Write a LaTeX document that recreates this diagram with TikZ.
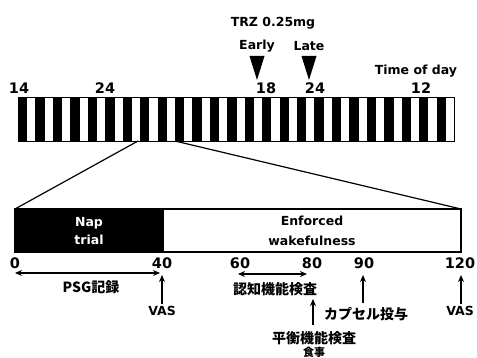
\documentclass[tikz,border=0pt]{standalone}
\usepackage{fontspec}
\setmainfont{DejaVu Sans}
\newfontfamily\jpfont{Noto Sans CJK JP}
\usetikzlibrary{arrows.meta}
\tikzset{
  lbl/.style={font=\bfseries\fontsize{12.5}{14}\selectfont, inner sep=0pt},
  num/.style={font=\bfseries\fontsize{14.5}{16}\selectfont, inner sep=0pt},
  jlbl/.style={font=\jpfont\bfseries\fontsize{14}{16}\selectfont, inner sep=0pt},
  arr/.style={-{Stealth[length=7pt,width=6pt]}, line width=1.4pt},
  darr/.style={{Stealth[length=7pt,width=6pt]}-{Stealth[length=7pt,width=6pt]}, line width=1.4pt},
  tri/.style={fill=black},
}
\begin{document}
\begin{tikzpicture}[x=1pt,y=-1pt]
\useasboundingbox (0,0) rectangle (477,358);
% top labels
\node[lbl] (trz) at (273,23) {TRZ 0.25mg};
\node[lbl] (early) at (257,46) {Early};
\node[lbl] (late) at (309,46) {Late};
\fill[tri] (249.5,56) -- (264.5,56) -- (257,80) -- cycle;
\fill[tri] (301.5,56) -- (316.5,56) -- (309,80) -- cycle;
\node[lbl] (tod) at (416,71) {Time of day};
\node[num] (h14) at (19,88) {14};
\node[num] (h24a) at (105,88) {24};
\node[num] (h18) at (266,88) {18};
\node[num] (h24b) at (315,88) {24};
\node[num] (h12) at (421,88) {12};
% striped bar
\foreach \i in {0,...,24} {
  \fill[black] ({18+2*\i*8.72},97) rectangle ({18+(2*\i+1)*8.72+0.6},141);
}
\draw[line width=0.8pt] (18,97) rectangle (454,141);
\coordinate (zl) at (138,141);
\coordinate (zr) at (175,141);
% lower box
\fill[black] (15,209) rectangle (164,252);
\draw[line width=1.2pt] (15,209) rectangle (461,252);
\coordinate (bl) at (15,209);
\coordinate (br) at (461,209);
\draw[line width=1.2pt] (zl) -- (bl);
\draw[line width=1.2pt] (zr) -- (br);
\node[lbl, text=white, align=center, font=\bfseries\fontsize{12.5}{18}\selectfont] (nap) at (89,231) {Nap\\trial};
\node[lbl, align=center, font=\bfseries\fontsize{12.5}{20}\selectfont] (enf) at (312,231) {Enforced\\wakefulness};
% axis labels
\node[num] (m0) at (15,263) {0};
\node[num] (m40) at (162,263) {40};
\node[num] (m60) at (240,263) {60};
\node[num] (m80) at (312,263) {80};
\node[num] (m90) at (364,263) {90};
\node[num] (m120) at (460,263) {120};
% PSG
\coordinate (p0) at (15,273);
\coordinate (p1) at (160,273);
\draw[darr] (p0) -- (p1);
\node[jlbl] (psg) at (91,287) {PSG記録};
% VAS at 40
\node[lbl] (vas1) at (162,311) {VAS};
\coordinate (v1e) at (162,275);
\draw[arr] (vas1.north) ++(0,-2) -- (v1e);
% cognitive
\coordinate (c0) at (238,274);
\coordinate (c1) at (307,274);
\draw[darr] (c0) -- (c1);
\node[jlbl] (cog) at (275,289) {認知機能検査};
% capsule
\node[jlbl] (cap) at (366,314) {カプセル投与};
\coordinate (k0) at (363,303);
\coordinate (k1) at (363,275);
\draw[arr] (k0) -- (k1);
% balance
\node[jlbl] (bal) at (314,338) {平衡機能検査};
\coordinate (b0) at (313,325);
\coordinate (b1) at (313,299);
\draw[arr] (b0) -- (b1);
\node[jlbl, font=\jpfont\bfseries\fontsize{11}{12}\selectfont] (meal) at (314,352.5) {食事};
% VAS at 120
\node[lbl] (vas2) at (460,311) {VAS};
\coordinate (v2e) at (461,275);
\draw[arr] (vas2.north) ++(1,-2) -- (v2e);
\end{tikzpicture}
\end{document}
